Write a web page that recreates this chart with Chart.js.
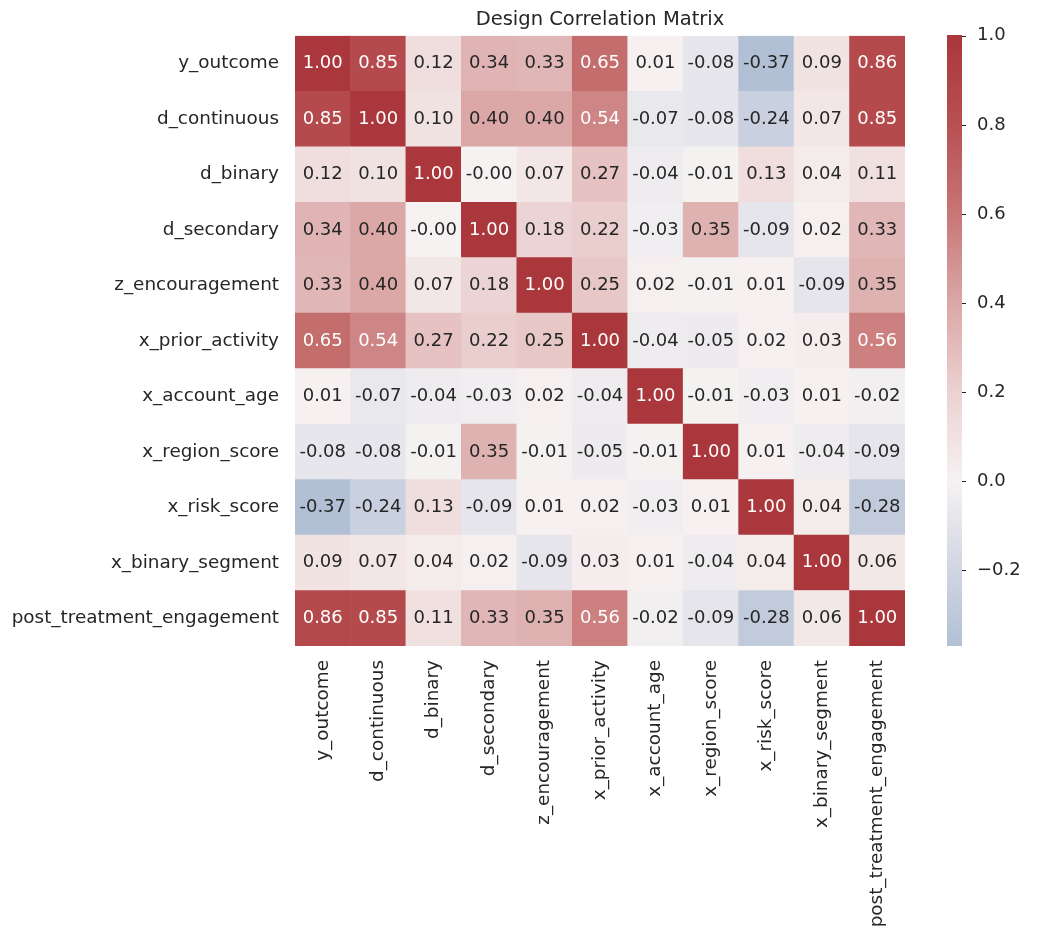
<!DOCTYPE html>
<html>
<head>
<meta charset="utf-8">
<script src="https://cdn.jsdelivr.net/npm/chart.js@4"></script>
<style>
  body { margin: 0; background: #fff; overflow: hidden; }
  #wrap { width: 1050px; height: 979px; margin-top: -39px; }
</style>
</head>
<body>
<div id="wrap"><canvas id="heat"></canvas></div>
<script>
const variables = ['y_outcome', 'd_continuous', 'd_binary', 'd_secondary', 'z_encouragement',
  'x_prior_activity', 'x_account_age', 'x_region_score', 'x_risk_score', 'x_binary_segment',
  'post_treatment_engagement'];

const corr = [
  [1.00, 0.85, 0.12, 0.34, 0.33, 0.65, 0.01, -0.08, -0.37, 0.09, 0.86],
  [0.85, 1.00, 0.10, 0.40, 0.40, 0.54, -0.07, -0.08, -0.24, 0.07, 0.85],
  [0.12, 0.10, 1.00, -0.00, 0.07, 0.27, -0.04, -0.01, 0.13, 0.04, 0.11],
  [0.34, 0.40, -0.00, 1.00, 0.18, 0.22, -0.03, 0.35, -0.09, 0.02, 0.33],
  [0.33, 0.40, 0.07, 0.18, 1.00, 0.25, 0.02, -0.01, 0.01, -0.09, 0.35],
  [0.65, 0.54, 0.27, 0.22, 0.25, 1.00, -0.04, -0.05, 0.02, 0.03, 0.56],
  [0.01, -0.07, -0.04, -0.03, 0.02, -0.04, 1.00, -0.01, -0.03, 0.01, -0.02],
  [-0.08, -0.08, -0.01, 0.35, -0.01, -0.05, -0.01, 1.00, 0.01, -0.04, -0.09],
  [-0.37, -0.24, 0.13, -0.09, 0.01, 0.02, -0.03, 0.01, 1.00, 0.04, -0.28],
  [0.09, 0.07, 0.04, 0.02, -0.09, 0.03, 0.01, -0.04, 0.04, 1.00, 0.06],
  [0.86, 0.85, 0.11, 0.33, 0.35, 0.56, -0.02, -0.09, -0.28, 0.06, 1.00]
];

const cbTicks = [1.0, 0.8, 0.6, 0.4, 0.2, 0.0, -0.2];
const vmin = -0.37, vmax = 1.0;

// approximate seaborn "vlag" centered at 0
const stops = [
  [-1.0, [35, 105, 189]],
  [-0.37, [178, 192, 213]],
  [-0.2, [208, 213, 226]],
  [0.0, [246, 242, 242]],
  [0.2, [236, 209, 209]],
  [0.4, [219, 167, 167]],
  [0.6, [200, 118, 118]],
  [0.8, [184, 80, 82]],
  [1.0, [169, 55, 59]]
];
function colorFor(v) {
  for (let i = 1; i < stops.length; i++) {
    if (v <= stops[i][0]) {
      const [a, ca] = stops[i - 1], [b, cb] = stops[i];
      const t = (v - a) / (b - a);
      const c = ca.map((x, k) => Math.round(x + (cb[k] - x) * t));
      return `rgb(${c[0]},${c[1]},${c[2]})`;
    }
  }
  return 'rgb(169,55,59)';
}

function fmt(v) {
  return (v < 0 || Object.is(v, -0) ? '-' : '') + Math.abs(v).toFixed(2);
}

const cells = [];
corr.forEach((row, r) => row.forEach((v, c) => {
  cells.push({ x: variables[c], y: [r, r + 1], v: v });
}));

const FONT = 'DejaVu Sans';
const textColor = '#262626';

const cellText = {
  id: 'cellText',
  afterDatasetsDraw(chart) {
    const ctx = chart.ctx;
    const meta = chart.getDatasetMeta(0);
    ctx.save();
    ctx.font = `18px "${FONT}"`;
    ctx.textAlign = 'center';
    ctx.textBaseline = 'middle';
    meta.data.forEach((bar, i) => {
      const v = cells[i].v;
      const p = bar.getProps(['x', 'y', 'base'], true);
      ctx.fillStyle = v > 0.5 ? '#ffffff' : textColor;
      ctx.fillText(fmt(v), p.x, (p.y + p.base) / 2);
    });
    // colorbar
    const cb = chart.scales.cb;
    const x0 = 947, w = 15;
    const top = cb.getPixelForValue(vmax), bot = cb.getPixelForValue(vmin);
    for (let y = Math.floor(top); y < Math.ceil(bot); y++) {
      ctx.fillStyle = colorFor(cb.getValueForPixel(y + 0.5));
      ctx.fillRect(x0, y, w, 1);
    }
    ctx.strokeStyle = textColor;
    ctx.lineWidth = 1;
    cbTicks.forEach(t => {
      const y = Math.round(cb.getPixelForValue(t)) + 0.5;
      ctx.beginPath(); ctx.moveTo(x0 + w, y); ctx.lineTo(x0 + w + 4, y); ctx.stroke();
    });
    // title
    ctx.fillStyle = textColor;
    ctx.font = `19.5px "${FONT}"`;
    ctx.fillText('Design Correlation Matrix', (chart.chartArea.left + chart.chartArea.right) / 2, chart.chartArea.top - 16);
    ctx.restore();
  }
};

new Chart(document.getElementById('heat').getContext('2d'), {
  type: 'bar',
  data: {
    labels: variables,
    datasets: [{
      data: cells,
      backgroundColor: ctx => colorFor(cells[ctx.dataIndex] ? cells[ctx.dataIndex].v : 0),
      borderWidth: 0,
      barPercentage: 1,
      categoryPercentage: 1,
      grouped: false
    }]
  },
  options: {
    responsive: true,
    maintainAspectRatio: false,
    animation: false,
    layout: { padding: 0 },
    plugins: { legend: { display: false }, tooltip: { enabled: false } },
    scales: {
      x: {
        type: 'category',
        grid: { display: false },
        border: { display: false },
        ticks: { minRotation: 90, maxRotation: 90, color: textColor, font: { family: FONT, size: 18.4 }, padding: 6 },
        afterFit: s => { s.height = 294; }
      },
      y: {
        type: 'linear', reverse: true, min: 0, max: 11,
        grid: { display: false },
        border: { display: false },
        afterBuildTicks: s => { s.ticks = variables.map((_, i) => ({ value: i + 0.5 })); },
        ticks: {
          color: textColor, font: { family: FONT, size: 18.4 }, padding: 8,
          callback: v => variables[Math.floor(v)]
        },
        afterFit: s => { s.width = 295; }
      },
      cb: {
        type: 'linear', position: 'right', min: vmin, max: vmax,
        grid: { display: false },
        border: { display: false },
        afterBuildTicks: s => { s.ticks = cbTicks.map(v => ({ value: v })); },
        ticks: {
          color: textColor, font: { family: FONT, size: 18 }, padding: 64,
          callback: v => (v < 0 ? '\u2212' : '') + Math.abs(v).toFixed(1)
        },
        afterFit: s => { s.width = 145; }
      }
    }
  },
  plugins: [cellText]
});
</script>
</body>
</html>
